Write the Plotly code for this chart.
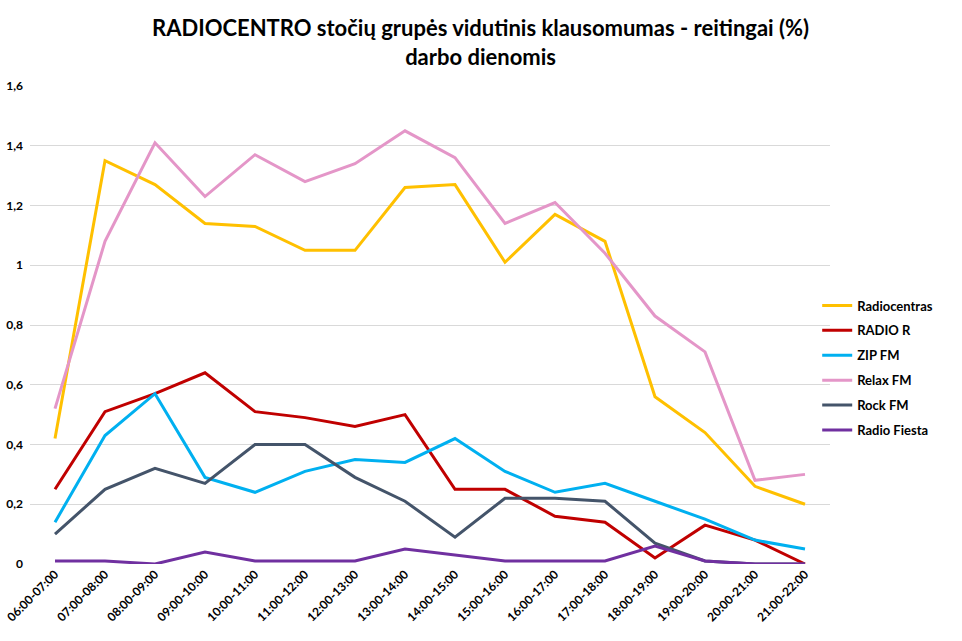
import plotly.graph_objects as go

categories = ["06:00-07:00", "07:00-08:00", "08:00-09:00", "09:00-10:00", "10:00-11:00",
              "11:00-12:00", "12:00-13:00", "13:00-14:00", "14:00-15:00", "15:00-16:00",
              "16:00-17:00", "17:00-18:00", "18:00-19:00", "19:00-20:00", "20:00-21:00",
              "21:00-22:00"]

radiocentras = [0.42, 1.35, 1.27, 1.14, 1.13, 1.05, 1.05, 1.26, 1.27, 1.01, 1.17, 1.08, 0.56, 0.44, 0.26, 0.20]
radio_r = [0.25, 0.51, 0.57, 0.64, 0.51, 0.49, 0.46, 0.50, 0.25, 0.25, 0.16, 0.14, 0.02, 0.13, 0.08, 0.00]
zip_fm = [0.14, 0.43, 0.57, 0.29, 0.24, 0.31, 0.35, 0.34, 0.42, 0.31, 0.24, 0.27, 0.21, 0.15, 0.08, 0.05]
relax_fm = [0.52, 1.08, 1.41, 1.23, 1.37, 1.28, 1.34, 1.45, 1.36, 1.14, 1.21, 1.04, 0.83, 0.71, 0.28, 0.30]
rock_fm = [0.10, 0.25, 0.32, 0.27, 0.40, 0.40, 0.29, 0.21, 0.09, 0.22, 0.22, 0.21, 0.07, 0.01, 0.00, 0.00]
radio_fiesta = [0.01, 0.01, 0.00, 0.04, 0.01, 0.01, 0.01, 0.05, 0.03, 0.01, 0.01, 0.01, 0.06, 0.01, 0.00, 0.00]

series = [
    ("Radiocentras", radiocentras, "#FFC000"),
    ("RADIO R", radio_r, "#C00000"),
    ("ZIP FM", zip_fm, "#00B0F0"),
    ("Relax FM", relax_fm, "#E496C8"),
    ("Rock FM", rock_fm, "#44546A"),
    ("Radio Fiesta", radio_fiesta, "#7030A0"),
]

yticks = [0, 0.2, 0.4, 0.6, 0.8, 1.0, 1.2, 1.4, 1.6]

fig = go.Figure()
for i, (name, vals, color) in enumerate(series):
    fig.add_trace(go.Scatter(x=categories, y=vals, mode="lines", name=name,
                             legendgroup="g%d" % i,
                             line=dict(color=color, width=3)))

font_family = "Lato, 'Open Sans', Arial, sans-serif"
fig.update_layout(
    width=962, height=641,
    margin=dict(l=30, r=132, t=86, b=77),
    paper_bgcolor="white", plot_bgcolor="white",
    separators=", ",
    font=dict(family=font_family, color="black"),
    showlegend=True,
    legend=dict(x=0.984, xanchor="left", y=0.41, yanchor="middle",
                font=dict(size=13, color="black", family=font_family, weight="bold"),
                bgcolor="rgba(0,0,0,0)", itemwidth=30, tracegroupgap=5),
    xaxis=dict(type="category", range=[-0.5, 15.5], showgrid=False, zeroline=False, showline=False,
               tickangle=-45, tickfont=dict(size=12, family=font_family, weight="bold"),
               ticks="", automargin=False),
    yaxis=dict(range=[0, 1.6], tickvals=yticks, showgrid=True, gridcolor="#D9D9D9",
               gridwidth=1, zeroline=False, showline=False, automargin=False,
               ticklabelstandoff=6,
               tickfont=dict(size=12, family=font_family, weight="bold"), ticks=""),
    annotations=[dict(text="RADIOCENTRO stočių grupės vidutinis klausomumas - reitingai (%)<br>darbo dienomis",
                      xref="paper", yref="paper", x=0.5625, y=1.092, xanchor="center", yanchor="middle",
                      showarrow=False,
                      font=dict(family=font_family, size=22, color="black", weight="bold"))],
)

fig.write_html("out.html")
